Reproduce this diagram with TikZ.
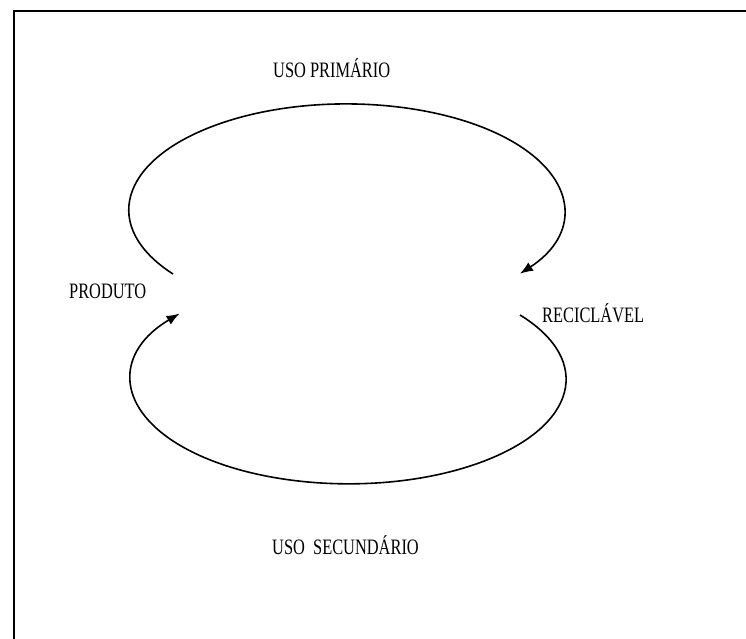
\documentclass[tikz,border=0pt]{standalone}
\usepackage{fontspec}
\usepackage{graphicx}
\setmainfont{Liberation Serif}
\usetikzlibrary{arrows.meta}
\newcommand\narrowtext[1]{\scalebox{0.745}[1]{#1}}
\tikzset{
  lbl/.style={anchor=base west, inner sep=0pt, font=\fontsize{22}{26}\selectfont},
  cycle/.style={line width=1.6pt, -{Latex[length=13pt,width=10pt]}},
  frameline/.style={line width=1.6pt}
}
\begin{document}
\begin{tikzpicture}[x=1pt,y=1pt]
\useasboundingbox (0,0) rectangle (746,639);
% frame (top and left edges)
\draw[frameline] (14,0) -- (14,628) -- (746,628);

% labels
\node[lbl] (uso1) at (273,561.5) {\narrowtext{USO PRIMÁRIO}};
\node[lbl] (prod) at (69,340.5) {\narrowtext{PRODUTO}};
\node[lbl] (recic) at (542,316) {\narrowtext{RECICLÁVEL}};
\node[lbl] (uso2) at (272,84) {\narrowtext{USO\ \ SECUNDÁRIO}};

% arc end points
\coordinate (topstart) at (173,365);
\coordinate (botstart) at (520,324);

% primary use: product -> recyclable
\draw[cycle] (topstart) arc[start angle=217.2, end angle=-37, x radius=217.5, y radius=106];
% secondary use: recyclable -> product
\draw[cycle] (botstart) arc[start angle=38, end angle=-219, x radius=217.5, y radius=104.5];
\end{tikzpicture}
\end{document}
